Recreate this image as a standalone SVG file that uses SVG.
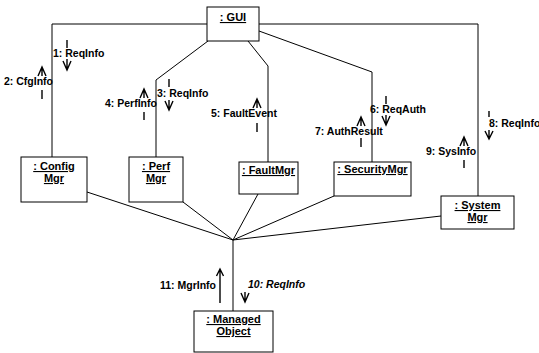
<svg xmlns="http://www.w3.org/2000/svg" width="539" height="353" viewBox="0 0 539 353">
<style>
.box{fill:#fff;stroke:#000;stroke-width:1}
.con{fill:none;stroke:#000;stroke-width:1}
.msg{fill:none;stroke:#000;stroke-width:1.4}
.t{font-family:"Liberation Sans",Arial,sans-serif;font-weight:bold;font-size:11px;text-anchor:middle;text-decoration:underline;fill:#000}
.m{font-family:"Liberation Sans",Arial,sans-serif;font-weight:bold;font-size:10.5px;fill:#000}
</style>
<rect width="539" height="353" fill="#fff"/>
<g id="connectors">
<polyline class="con" points="207,24 52,24 52,157"/>
<polyline class="con" points="208,41 156,80 156,157"/>
<polyline class="con" points="248,41 268,66 268,162"/>
<polyline class="con" points="259,31 372,72 372,162"/>
<polyline class="con" points="259,24 478,24 478,196"/>
<line class="con" x1="233" y1="240" x2="87" y2="192"/>
<line class="con" x1="233" y1="240" x2="183" y2="202"/>
<line class="con" x1="233" y1="240" x2="258" y2="194"/>
<line class="con" x1="233" y1="240" x2="334" y2="196"/>
<line class="con" x1="233" y1="240" x2="441" y2="216"/>
<line class="con" x1="233" y1="240" x2="233" y2="311"/>
</g>
<g id="messages">
<line class="msg" x1="67" y1="40" x2="67" y2="48"/>
<path class="msg" d="M67,59V70M63,61L67,70L71,61"/>
<text class="m" x="53" y="57">1: ReqInfo</text>
<path class="msg" d="M42,67V76M38,76L42,67L46,76"/>
<line class="msg" x1="42" y1="90" x2="42" y2="99"/>
<text class="m" x="4" y="85">2: CfgInfo</text>
<line class="msg" x1="169" y1="79" x2="169" y2="87"/>
<path class="msg" d="M169,100V110M165,101L169,110L173,101"/>
<text class="m" x="157" y="97">3: ReqInfo</text>
<path class="msg" d="M144,89V98M140,98L144,89L148,98"/>
<line class="msg" x1="144" y1="112" x2="144" y2="120"/>
<text class="m" x="105" y="107">4: PerfInfo</text>
<path class="msg" d="M257,99V108M253,108L257,99L261,108"/>
<line class="msg" x1="257" y1="123" x2="257" y2="132"/>
<text class="m" x="211" y="117">5: FaultEvent</text>
<line class="msg" x1="386" y1="96" x2="386" y2="104"/>
<path class="msg" d="M386,115V125M382,116L386,125L390,116"/>
<text class="m" x="370" y="113">6: ReqAuth</text>
<path class="msg" d="M361,117V126M357,126L361,117L365,126"/>
<line class="msg" x1="361" y1="138" x2="361" y2="147"/>
<text class="m" x="315" y="135">7: AuthResult</text>
<line class="msg" x1="489" y1="111" x2="489" y2="117"/>
<path class="msg" d="M489,130V139M485,131L489,139L493,131"/>
<text class="m" x="489" y="127">8: ReqInfo</text>
<path class="msg" d="M464,137V146M460,146L464,137L468,146"/>
<line class="msg" x1="464" y1="160" x2="464" y2="168"/>
<text class="m" x="426" y="155">9: SysInfo</text>
<path class="msg" d="M220,303V269M216.5,276L220,269L223.5,276"/>
<text class="m" x="216" y="289" text-anchor="end">11: MgrInfo</text>
<path class="msg" d="M245,292V302M241,293L245,302L249,293"/>
<text class="m" x="248" y="288" font-style="italic">10: ReqInfo</text>
</g>
<g id="gui">
<rect class="box" x="207" y="7" width="52" height="34"/>
<text class="t" x="233" y="21">: GUI</text>
</g>
<g id="config">
<rect class="box" x="21" y="157" width="66" height="45"/>
<text class="t" x="54" y="170">: Config</text>
<text class="t" x="54" y="182">Mgr</text>
</g>
<g id="perf">
<rect class="box" x="129" y="157" width="54" height="45"/>
<text class="t" x="156" y="170">: Perf</text>
<text class="t" x="156" y="182">Mgr</text>
</g>
<g id="fault">
<rect class="box" x="239" y="162" width="59" height="32"/>
<text class="t" x="268.5" y="174">: FaultMgr</text>
</g>
<g id="security">
<rect class="box" x="334" y="162" width="77" height="34"/>
<text class="t" x="372.5" y="173">: SecurityMgr</text>
</g>
<g id="system">
<rect class="box" x="441" y="196" width="73" height="33"/>
<text class="t" x="477.5" y="209">: System</text>
<text class="t" x="477.5" y="221">Mgr</text>
</g>
<g id="managed">
<rect class="box" x="194" y="311" width="79" height="41"/>
<text class="t" x="233.5" y="323">: Managed</text>
<text class="t" x="233.5" y="335">Object</text>
</g>
</svg>
